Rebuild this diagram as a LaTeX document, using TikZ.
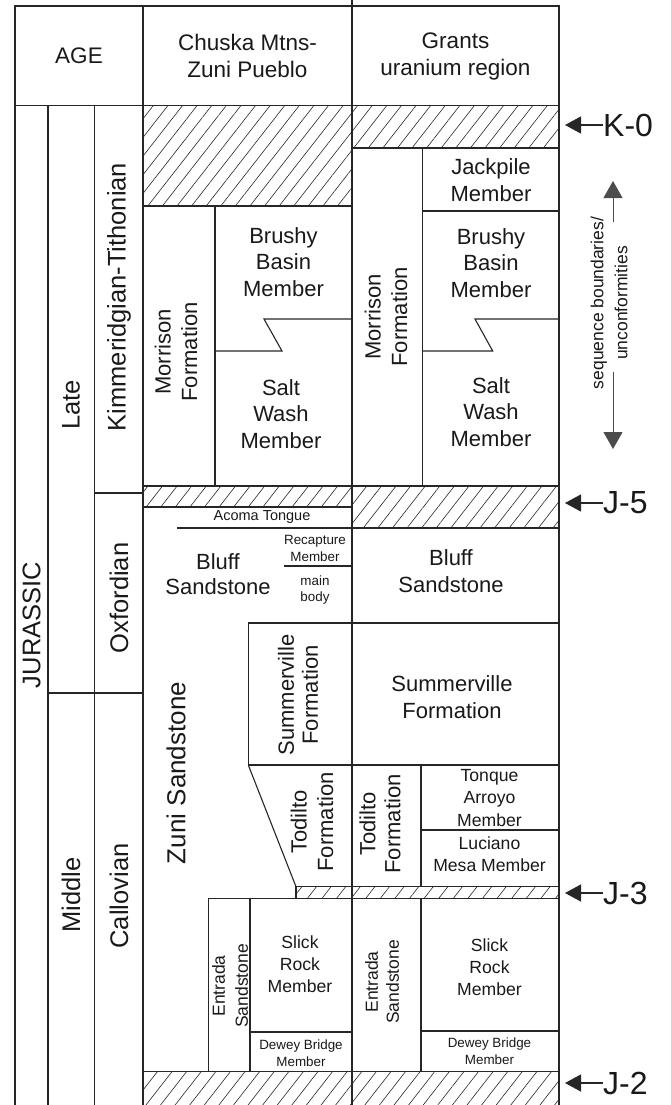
\documentclass[tikz,border=0pt]{standalone}
\usepackage{fontspec}
\setmainfont{Liberation Sans}
\usetikzlibrary{arrows.meta,patterns.meta}
\begin{document}
\begin{tikzpicture}[x=1pt,y=-1pt,
  ln/.style={line width=1.1pt,draw=black!85},
  hatch/.style={ln,pattern={Lines[angle=52,distance=11.5pt,line width=0.6pt]},pattern color=black!85},
  txt/.style={align=center,inner sep=0pt,text=black!90},
  hd/.style={txt,font=\fontsize{22.5}{27}\selectfont},
  agel/.style={txt,rotate=90,font=\fontsize{25.5}{30}\selectfont},
  mem/.style={txt,font=\fontsize{22}{26.7}\selectfont},
  memr/.style={mem,rotate=90},
  sm/.style={txt,font=\fontsize{17.6}{22.3}\selectfont},
  smr/.style={sm,rotate=90},
  tiny/.style={txt,font=\fontsize{13.4}{16.5}\selectfont},
  bnd/.style={txt,anchor=west,font=\fontsize{32}{36}\selectfont},
  barrow/.style={line width=1.2pt,draw=black!85,-{Triangle[length=16pt,width=17pt]}},
  sarrow/.style={line width=1pt,draw=black!70,-{Triangle[length=17pt,width=19pt]}}
]
\useasboundingbox (0,0) rectangle (670,1105);
% ---------- hatched bands ----------
\path[hatch] (143,105.7) rectangle (352,206);
\path[hatch] (352,105.7) rectangle (559,148);
\path[hatch] (143,486) rectangle (352,507);
\path[hatch] (352,486) rectangle (559,528);
\path[hatch] (296,886.7) rectangle (559,898.3);
\fill[pattern={Lines[angle=52,distance=11.5pt,line width=0.6pt]},pattern color=black!85] (143,1071.7) rectangle (559,1105);
\draw[ln] (143,1071.7) -- (559,1071.7);
% ---------- frame ----------
\draw[ln] (15,1105) -- (15,6) -- (559,6) -- (559,1105);
\draw[ln] (15,105.7) -- (559,105.7);
\draw[ln] (48,105.7) -- (48,1105);
\draw[ln] (94.5,105.7) -- (94.5,1105);
\draw[ln] (143,6) -- (143,1105);
\draw[ln] (352,0) -- (352,1105);
\draw[ln] (94.5,493) -- (143,493);
\draw[ln] (48,693) -- (143,693);
% ---------- Chuska column ----------
\draw[ln] (215,206) -- (215,486);
\draw[ln] (352,319) -- (264,319) -- (282,351) -- (215,351);
\draw[ln] (177,528) -- (352,528);
\draw[ln] (284,566) -- (352,566);
\draw[ln] (248.3,623) -- (559,623);
\draw[ln] (248.3,623) -- (248.3,765) -- (559,765);
\draw[ln] (248.3,765) -- (296,886.7);
\draw[ln] (296,898.3) -- (208.3,898.3) -- (208.3,1071.7);
\draw[ln] (250,898.3) -- (250,1071.7);
\draw[ln] (250,1032) -- (352,1032);
% ---------- Grants column ----------
\draw[ln] (422.7,148) -- (422.7,486);
\draw[ln] (422.7,211) -- (559,211);
\draw[ln] (559,319) -- (475,319) -- (492.7,351) -- (422.7,351);
\draw[ln] (421,765) -- (421,886.7);
\draw[ln] (421,830) -- (559,830);
\draw[ln] (421,898.3) -- (421,1071.7);
\draw[ln] (421,1031) -- (559,1031);
% ---------- header ----------
\node[hd] (age) at (79,56) {AGE};
\node[hd] (chuska) at (247.5,56) {Chuska Mtns-\\Zuni Pueblo};
\node[hd] (grants) at (455.5,56) {Grants\\uranium region};
% ---------- age labels ----------
\node[agel] (jur) at (31.5,625) {JURASSIC};
\node[agel] (late) at (71,405) {Late};
\node[agel] (middle) at (71,895) {Middle};
\node[agel] (kim) at (119,297) {Kimmeridgian-Tithonian};
\node[agel] (oxf) at (119,598) {Oxfordian};
\node[agel] (cal) at (119,896) {Callovian};
% ---------- Chuska texts ----------
\node[memr] (morC) at (176,352) {Morrison\\Formation};
\node[mem] (brushyC) at (283.5,262) {Brushy\\Basin\\Member};
\node[mem] (saltC) at (281,414) {Salt\\Wash\\Member};
\node[txt,font=\fontsize{14.5}{17}\selectfont] (acoma) at (262,517) {Acoma Tongue};
\node[tiny] (recap) at (315,548.5) {Recapture\\Member};
\node[tiny] (mainb) at (315,590) {main\\body};
\node[txt,font=\fontsize{22}{25}\selectfont] (bluffC) at (218,574) {Bluff\\Sandstone};
\node[txt,rotate=90,font=\fontsize{22}{24}\selectfont] (sumC) at (298,695) {Summerville\\Formation};
\node[txt,rotate=90,font=\fontsize{26}{30}\selectfont] (zuni) at (176,773) {Zuni Sandstone};
\node[memr] (todC) at (312,822) {Todilto\\Formation};
\node[txt,rotate=90,font=\fontsize{17.5}{23}\selectfont] (entC) at (230,986) {Entrada\\Sandstone};
\node[sm] (slickC) at (300,964) {Slick\\Rock\\Member};
\node[tiny] (deweyC) at (301,1053) {Dewey Bridge\\Member};
% ---------- Grants texts ----------
\node[memr] (morG) at (386,317) {Morrison\\Formation};
\node[mem] (jack) at (491,180) {Jackpile\\Member};
\node[mem] (brushyG) at (491,263) {Brushy\\Basin\\Member};
\node[mem] (saltG) at (491,412) {Salt\\Wash\\Member};
\node[mem] (bluffG) at (451,571) {Bluff\\Sandstone};
\node[mem] (sumG) at (452,697) {Summerville\\Formation};
\node[txt,rotate=90,font=\fontsize{22}{25}\selectfont] (todG) at (380,824) {Todilto\\Formation};
\node[sm] (tonque) at (489.5,798) {Tonque\\Arroyo\\Member};
\node[sm] (luciano) at (489.5,854) {Luciano\\Mesa Member};
\node[txt,rotate=90,font=\fontsize{17.5}{21}\selectfont] (entG) at (382,982) {Entrada\\Sandstone};
\node[sm] (slickG) at (489.5,967) {Slick\\Rock\\Member};
\node[tiny] (deweyG) at (489.5,1051) {Dewey Bridge\\Member};
% ---------- sequence boundaries ----------
\node[bnd] (k0) at (603,125) {K-0};
\node[bnd] (j5) at (603,503) {J-5};
\node[bnd] (j3) at (603,893) {J-3};
\node[bnd] (j2) at (603,1083) {J-2};
\coordinate (k0t) at (565,125);
\coordinate (j5t) at (565,503);
\coordinate (j3t) at (565,893);
\coordinate (j2t) at (565,1083);
\draw[barrow] (k0.west) -- (k0t);
\draw[barrow] (j5.west) -- (j5t);
\draw[barrow] (j3.west) -- (j3t);
\draw[barrow] (j2.west) -- (j2t);
\node[txt,rotate=90,font=\fontsize{17.5}{24}\selectfont] (seq) at (609,303) {sequence boundaries/\\unconformities};
\coordinate (upS) at (613,222);
\coordinate (upT) at (613,181);
\coordinate (dnS) at (613,372);
\coordinate (dnT) at (613,449);
\draw[sarrow] (upS) -- (upT);
\draw[sarrow] (dnS) -- (dnT);
\end{tikzpicture}
\end{document}
